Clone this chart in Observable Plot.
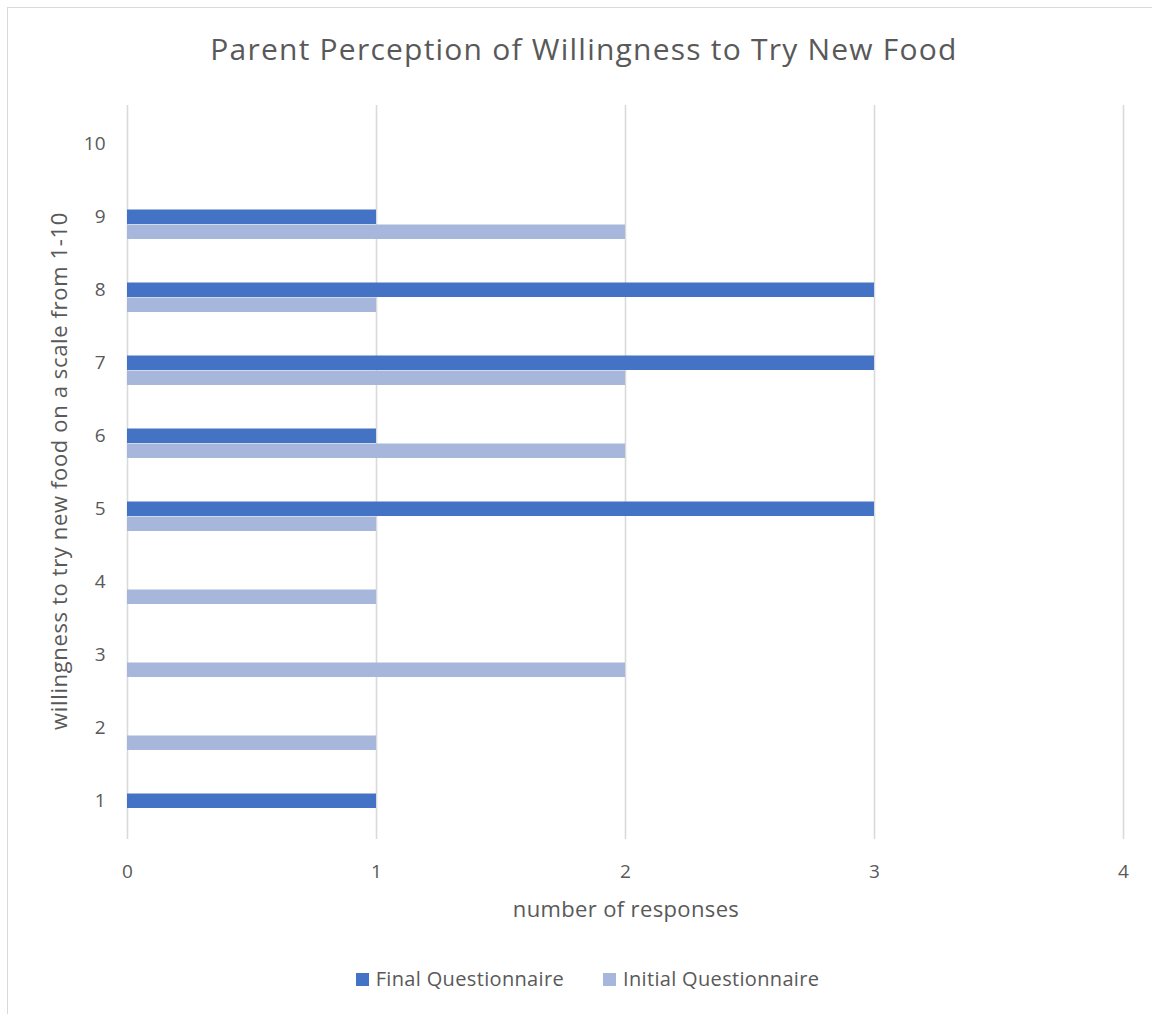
<!DOCTYPE html>
<html>
<head>
<meta charset="utf-8">
<script src="https://cdn.jsdelivr.net/npm/d3@7"></script>
<script src="https://cdn.jsdelivr.net/npm/@observablehq/plot@0.6"></script>
<style>
  html, body { margin: 0; padding: 0; background: #fff; }
  #page { position: relative; width: 1152px; height: 1014px; overflow: hidden; font-family: "Open Sans", sans-serif; color: #595959; }
  #frame { position: absolute; left: 7px; top: 7px; width: 1200px; height: 1100px; border-left: 1.5px solid #d9d9d9; border-top: 1.5px solid #d9d9d9; box-sizing: border-box; }
  #chart { position: absolute; left: 0; top: 0; }
  .title { position: absolute; left: 0; width: 1168px; top: 29px; text-align: center; font-size: 30px; line-height: 40px; white-space: nowrap; }
  .xtitle { position: absolute; left: 376px; width: 500px; top: 894px; text-align: center; font-size: 22px; line-height: 28px; white-space: nowrap; }
  .ytitle { position: absolute; left: 58px; top: 471px; transform: translate(-50%, -50%) rotate(-90deg); font-size: 22px; line-height: 28px; white-space: nowrap; }
  .legend { position: absolute; top: 966px; left: 0; width: 1175px; display: flex; justify-content: center; gap: 39px; font-size: 20px; line-height: 26px; }
  .legend span.item { display: inline-flex; align-items: center; gap: 7px; }
  .legend span.sw { display: inline-block; width: 13px; height: 13px; }
</style>
</head>
<body>
<div id="page">
  <div id="frame"></div>
  <div id="chart"></div>
  <div class="title" id="title"></div>
  <div class="xtitle" id="xtitle"></div>
  <div class="ytitle" id="ytitle"></div>
  <div class="legend" id="legend"></div>
</div>
<script>
// ---- Data ----
const categories = ["1", "2", "3", "4", "5", "6", "7", "8", "9", "10"];
const finalValues = [1, 0, 0, 0, 3, 1, 3, 3, 1, 0];
const initialValues = [0, 1, 2, 1, 1, 2, 2, 1, 2, 0];
const xTicks = [0, 1, 2, 3, 4];
const seriesNames = ["Final Questionnaire", "Initial Questionnaire"];
const seriesColors = ["#4472C4", "#A7B6DB"];
const titleText = "Parent Perception of Willingness to Try New Food";
const xLabel = "number of responses";
const yLabel = "willingness to try new food on a scale from 1-10";

// ---- Build tables ----
const finalRows = categories.map((c, i) => ({cat: c, value: finalValues[i]})).filter(d => d.value > 0);
const initialRows = categories.map((c, i) => ({cat: c, value: initialValues[i]})).filter(d => d.value > 0);

const chart = Plot.plot({
  width: 1152,
  height: 900,
  marginTop: 105,
  marginBottom: 61,
  marginLeft: 127,
  marginRight: 29,
  style: {fontFamily: "'Open Sans', sans-serif", fontSize: "19px", color: "#595959", background: "transparent"},
  x: {domain: [0, 4], ticks: xTicks, label: null},
  y: {domain: categories.slice().reverse(), padding: 0, label: null},
  marks: [
    Plot.gridX(xTicks, {stroke: "#d9d9d9", strokeOpacity: 1, strokeWidth: 1.6}),
    Plot.barX(initialRows, {x1: 0, x2: "value", y: "cat", fill: seriesColors[1], insetTop: 44.5, insetBottom: 14}),
    Plot.barX(finalRows, {x1: 0, x2: "value", y: "cat", fill: seriesColors[0], insetTop: 29.5, insetBottom: 29}),
    Plot.axisX({ticks: xTicks, tickSize: 0, tickPadding: 25, fill: "#595959", fontSize: 19, label: null, tickFormat: d => String(d)}),
    Plot.axisY({tickSize: 0, tickPadding: 22, fill: "#595959", fontSize: 19, label: null})
  ]
});
document.getElementById("chart").appendChild(chart);

// fit text spacing to the reference's text lengths (Segoe-like width)
const ctx = document.createElement("canvas").getContext("2d");
function fit(el, text, size, target) {
  ctx.font = size + "px 'Open Sans'";
  const w = ctx.measureText(text).width;
  const ls = Math.max(0, (target - w) / Math.max(1, text.length - 1));
  el.style.letterSpacing = ls.toFixed(2) + "px";
  el.textContent = text;
}
fit(document.getElementById("title"), titleText, 30, 746);
fit(document.getElementById("xtitle"), xLabel, 22, 226);
fit(document.getElementById("ytitle"), yLabel, 22, 517);

const legend = document.getElementById("legend");
const legendTargets = [188, 196];
seriesNames.forEach((name, i) => {
  const item = document.createElement("span");
  item.className = "item";
  const sw = document.createElement("span");
  sw.className = "sw";
  sw.style.background = seriesColors[i];
  const t = document.createElement("span");
  fit(t, name, 20, legendTargets[i]);
  item.appendChild(sw);
  item.appendChild(t);
  legend.appendChild(item);
});
</script>
</body>
</html>
